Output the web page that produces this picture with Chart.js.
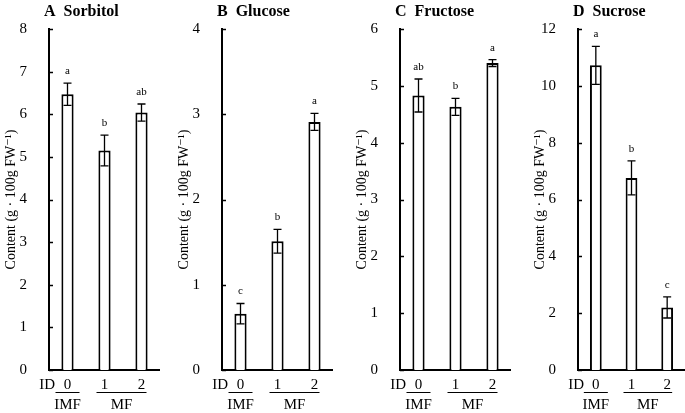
<!DOCTYPE html>
<html>
<head>
<meta charset="utf-8">
<script src="https://cdn.jsdelivr.net/npm/chart.js@4"></script>
<style>
  body { margin: 0; background: #fff; }
  #wrap { position: relative; width: 685px; height: 413px; overflow: hidden; }
  canvas { position: absolute; top: 0; }
</style>
</head>
<body>
<div id="wrap">
  <canvas id="chartA" width="160" height="413" style="left:0px"></canvas>
  <canvas id="chartB" width="160" height="413" style="left:173px"></canvas>
  <canvas id="chartC" width="160" height="413" style="left:351px"></canvas>
  <canvas id="chartD" width="156" height="413" style="left:529px"></canvas>
</div>
<script>
// Data
const categories = ['0', '1', '2'];

const sorbitolMeans = [6.47, 5.15, 6.04];
const sorbitolSE = [0.26, 0.36, 0.20];
const sorbitolLetters = ['a', 'b', 'ab'];

const glucoseMeans = [0.66, 1.51, 2.91];
const glucoseSE = [0.12, 0.14, 0.10];
const glucoseLetters = ['c', 'b', 'a'];

const fructoseMeans = [4.83, 4.63, 5.40];
const fructoseSE = [0.29, 0.15, 0.06];
const fructoseLetters = ['ab', 'b', 'a'];

const sucroseMeans = [10.72, 6.76, 2.20];
const sucroseSE = [0.67, 0.60, 0.37];
const sucroseLetters = ['a', 'b', 'c'];

const serif = '"Liberation Serif", "DejaVu Serif", serif';
const yTitle = 'Content (g \u00B7 100g FW\u207B\u00B9)';

// Draws everything Chart.js doesn't: inward ticks, error bars, letters, panel title, group labels
const extrasPlugin = {
    id: 'extras',
    afterDatasetsDraw(chart) {
        const ctx = chart.ctx;
        const opts = chart.options.plugins.extras;
        const x = chart.scales.x;
        const y = chart.scales.y;
        const area = chart.chartArea;
        const meta = chart.getDatasetMeta(0);

        ctx.save();
        ctx.strokeStyle = '#000';
        ctx.fillStyle = '#000';

        // inward y ticks
        ctx.lineWidth = 1.5;
        y.ticks.forEach(function (t) {
            const py = Math.round(y.getPixelForValue(t.value)) + 0.5;
            ctx.beginPath();
            ctx.moveTo(area.left, py);
            ctx.lineTo(area.left + 4, py);
            ctx.stroke();
        });

        // error bars + letters
        meta.data.forEach(function (bar, i) {
            const m = opts.means[i];
            const se = opts.se[i];
            const top = y.getPixelForValue(m + se);
            const bot = y.getPixelForValue(m - se);
            ctx.lineWidth = 1.3;
            ctx.beginPath();
            ctx.moveTo(bar.x, top);
            ctx.lineTo(bar.x, bot);
            ctx.moveTo(bar.x - 4, top);
            ctx.lineTo(bar.x + 4, top);
            ctx.moveTo(bar.x - 4, bot);
            ctx.lineTo(bar.x + 4, bot);
            ctx.stroke();

            ctx.font = '11px ' + serif;
            ctx.textAlign = 'center';
            ctx.textBaseline = 'middle';
            ctx.fillText(opts.letters[i], bar.x, top - 12);
        });

        // panel title
        ctx.font = 'bold 16px ' + serif;
        ctx.textAlign = 'left';
        ctx.textBaseline = 'alphabetic';
        ctx.fillText(opts.title, area.left - 5, 16);

        // category labels, ID and group labels
        const c0 = x.getPixelForValue(0);
        const c1 = x.getPixelForValue(1);
        const c2 = x.getPixelForValue(2);
        ctx.font = '15px ' + serif;
        ctx.textAlign = 'center';
        categories.forEach(function (lab, i) {
            ctx.fillText(lab, x.getPixelForValue(i), 389);
        });
        ctx.textAlign = 'right';
        ctx.fillText('ID', area.left + 6, 389);

        ctx.lineWidth = 1;
        ctx.beginPath();
        ctx.moveTo(c0 - 12, 392.5);
        ctx.lineTo(c0 + 12, 392.5);
        ctx.moveTo(c1 - 8, 392.5);
        ctx.lineTo(c2 + 5, 392.5);
        ctx.stroke();

        ctx.textAlign = 'center';
        ctx.fillText('IMF', c0, 409);
        ctx.fillText('MF', (c1 - 8 + c2 + 5) / 2, 409);
        ctx.restore();
    }
};

function makePanel(id, title, means, se, letters, yMax, step) {
    return new Chart(document.getElementById(id), {
        type: 'bar',
        data: {
            labels: categories,
            datasets: [{
                data: means,
                backgroundColor: '#fff',
                borderColor: '#000',
                borderWidth: 2,
                barPercentage: 0.33,
                categoryPercentage: 1
            }]
        },
        options: {
            responsive: false,
            animation: false,
            devicePixelRatio: 1,
            layout: { padding: { top: 29, right: 0, bottom: 0, left: 0 } },
            scales: {
                x: {
                    grid: { display: false },
                    border: { color: '#000', width: 2 },
                    ticks: { display: false },
                    afterFit: function (s) { s.height = 43; }
                },
                y: {
                    min: 0,
                    max: yMax,
                    grid: { display: false },
                    border: { color: '#000', width: 2 },
                    ticks: { stepSize: step, color: '#000', font: { family: serif, size: 15 }, padding: 14 },
                    title: {
                        display: true,
                        text: yTitle,
                        color: '#000',
                        font: { family: serif, size: 14 },
                        padding: { top: 3, bottom: 0 }
                    },
                    afterFit: function (s) { s.width = 49; }
                }
            },
            plugins: {
                legend: { display: false },
                tooltip: { enabled: false },
                extras: { title: title, means: means, se: se, letters: letters }
            }
        },
        plugins: [extrasPlugin]
    });
}

makePanel('chartA', 'A  Sorbitol', sorbitolMeans, sorbitolSE, sorbitolLetters, 8, 1);
makePanel('chartB', 'B  Glucose', glucoseMeans, glucoseSE, glucoseLetters, 4, 1);
makePanel('chartC', 'C  Fructose', fructoseMeans, fructoseSE, fructoseLetters, 6, 1);
makePanel('chartD', 'D  Sucrose', sucroseMeans, sucroseSE, sucroseLetters, 12, 2);
</script>
</body>
</html>
